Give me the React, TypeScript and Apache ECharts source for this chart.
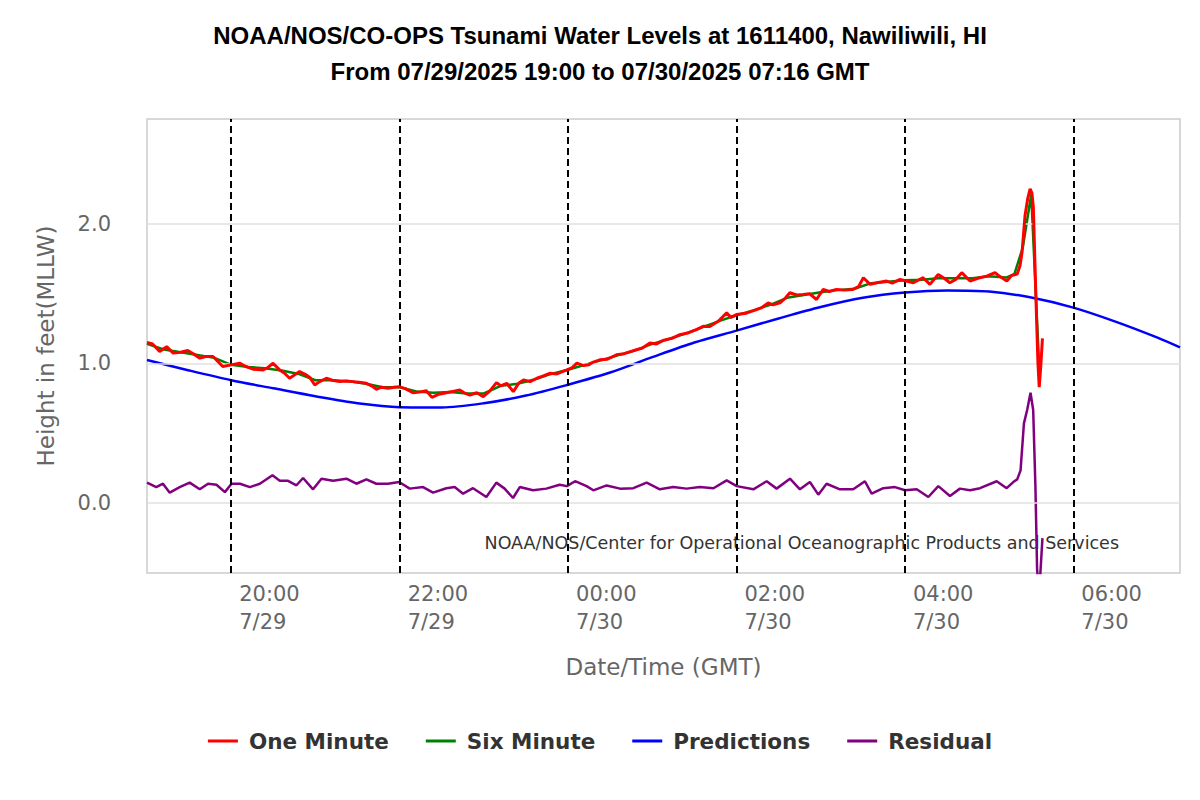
import React, { useEffect, useRef } from 'react';
import * as echarts from 'echarts';

// ---------- texts ----------
const TITLE_LINE_1 = 'NOAA/NOS/CO-OPS Tsunami Water Levels at 1611400, Nawiliwili, HI';
const TITLE_LINE_2 = 'From 07/29/2025 19:00 to 07/30/2025 07:16 GMT';
const CREDIT = 'NOAA/NOS/Center for Operational Oceanographic Products and Services';
const X_NAME = 'Date/Time (GMT)';
const Y_NAME = 'Height in feet(MLLW)';
const SERIES_NAMES = ['One Minute', 'Six Minute', 'Predictions', 'Residual'];

// ---------- axes (x in minutes after 07/29/2025 19:00 GMT) ----------
const X_MIN = 0;
const X_MAX = 736;
const X_TICK_MINUTES = [60, 180, 300, 420, 540, 660];
const X_TICK_LABELS = ['20:00\n7/29', '22:00\n7/29', '00:00\n7/30', '02:00\n7/30', '04:00\n7/30', '06:00\n7/30'];
const Y_MIN = -0.5;
const Y_MAX = 2.75;
const Y_TICKS = [0, 1, 2];
const Y_TICK_LABELS = ['0.0', '1.0', '2.0'];

// ---------- One Minute (observed) ----------
const ONE_MIN_T = [0, 4, 9, 14, 18.7, 24, 29, 33, 37.6, 42, 47, 54, 60, 66, 70, 75.6, 82.7, 86, 89.8, 94.5, 98, 101.6, 108.7, 113.5, 116, 119.5, 123, 127.8, 132, 137.3, 142, 146.8, 151, 156.3, 160, 163.4, 167, 171.7, 176, 179.6, 184, 189.5, 194, 199, 203, 208, 213.3, 218, 222.8, 226, 230, 235, 239.6, 244, 249, 252, 256.3, 261, 265, 268.3, 273, 277.8, 282, 287.3, 292, 299.2, 303, 306.3, 311, 314.6, 318, 322.6, 328, 334.5, 340, 348.8, 353, 358.3, 363, 367.8, 374, 379.6, 386, 391.5, 396.3, 401, 407, 413, 416, 420, 427, 434.3, 438, 442.6, 446, 451, 455, 458, 463, 467.5, 472, 477, 481.8, 486, 491.3, 497, 503, 507, 510.4, 515.2, 521, 527, 531, 536.6, 541, 546, 553, 557.8, 563.7, 568, 572, 576, 580.5, 586.4, 592, 598.3, 604.2, 608, 612.6, 616, 620, 622, 623.5, 625.6, 627.5, 629.2, 630.5, 631.5, 632.7, 633.8, 634.8, 635.7, 636.8, 638];
const ONE_MIN_V = [1.15, 1.14, 1.086, 1.12, 1.074, 1.08, 1.093, 1.07, 1.038, 1.05, 1.05, 0.978, 0.99, 1.002, 0.98, 0.959, 0.954, 0.97, 1.002, 0.954, 0.93, 0.894, 0.942, 0.918, 0.9, 0.846, 0.87, 0.894, 0.88, 0.87, 0.875, 0.87, 0.865, 0.858, 0.84, 0.815, 0.83, 0.822, 0.83, 0.834, 0.82, 0.79, 0.795, 0.805, 0.757, 0.78, 0.79, 0.8, 0.81, 0.79, 0.774, 0.79, 0.762, 0.8, 0.863, 0.84, 0.858, 0.798, 0.86, 0.882, 0.87, 0.894, 0.91, 0.93, 0.925, 0.954, 0.97, 1.002, 0.985, 0.99, 1.01, 1.026, 1.03, 1.062, 1.07, 1.098, 1.11, 1.146, 1.14, 1.165, 1.18, 1.206, 1.22, 1.242, 1.266, 1.265, 1.302, 1.362, 1.33, 1.35, 1.36, 1.386, 1.4, 1.434, 1.42, 1.434, 1.47, 1.506, 1.49, 1.494, 1.5, 1.458, 1.53, 1.515, 1.53, 1.525, 1.53, 1.55, 1.614, 1.566, 1.58, 1.59, 1.575, 1.602, 1.59, 1.578, 1.614, 1.566, 1.637, 1.61, 1.578, 1.6, 1.65, 1.59, 1.61, 1.625, 1.65, 1.62, 1.59, 1.63, 1.64, 1.7, 1.8, 2.06, 2.18, 2.25, 2.22, 2.12, 1.7, 1.32, 1.0, 0.83, 0.98, 1.18];

// ---------- Six Minute ----------
const SIX_MIN_T = [0, 12, 24, 36, 48, 60, 72, 84, 96, 108, 120, 132, 144, 156, 168, 180, 192, 204, 216, 228, 240, 252, 264, 276, 288, 300, 312, 324, 336, 348, 360, 372, 384, 396, 408, 420, 432, 444, 456, 468, 480, 492, 504, 516, 528, 540, 552, 564, 576, 588, 600, 612, 618, 624, 630, 636];
const SIX_MIN_V = [1.14, 1.1, 1.08, 1.06, 1.04, 0.99, 0.975, 0.965, 0.95, 0.925, 0.88, 0.88, 0.872, 0.855, 0.83, 0.83, 0.8, 0.79, 0.795, 0.785, 0.785, 0.84, 0.855, 0.885, 0.925, 0.955, 0.99, 1.025, 1.06, 1.095, 1.14, 1.175, 1.215, 1.26, 1.305, 1.345, 1.38, 1.42, 1.47, 1.49, 1.51, 1.525, 1.535, 1.575, 1.585, 1.595, 1.6, 1.61, 1.61, 1.61, 1.625, 1.615, 1.64, 1.83, 2.21, 0.9];

// ---------- Predictions ----------
const PRED_T = [0, 30, 60, 90, 120, 150, 180, 210, 240, 270, 300, 330, 360, 390, 420, 450, 480, 510, 540, 570, 600, 630, 660, 690, 720, 736];
const PRED_V = [1.025, 0.95, 0.88, 0.822, 0.765, 0.715, 0.687, 0.685, 0.715, 0.77, 0.848, 0.935, 1.045, 1.15, 1.235, 1.322, 1.404, 1.47, 1.508, 1.523, 1.515, 1.472, 1.4, 1.3, 1.185, 1.115];

// ---------- Residual ----------
const RESID_T = [0, 6.6, 11.4, 16.2, 23.3, 30.4, 37.6, 43.5, 49.5, 55.5, 60.2, 66.2, 73.3, 80.4, 89.4, 94.6, 100.5, 106.5, 111.2, 118.3, 124.3, 132.6, 142.1, 149.2, 156.3, 163.4, 171.7, 179.6, 187.2, 196.7, 203.8, 213.3, 219.2, 225.2, 232.3, 241.8, 248.9, 254.8, 260.8, 265.6, 275, 284.5, 294, 299.2, 305, 313.2, 318, 327.5, 337, 346.5, 356, 365.4, 374.9, 384.4, 393.9, 403.6, 413, 420.2, 432, 441.5, 448.6, 458.1, 465.2, 472.3, 478.3, 484.2, 493.7, 503.2, 511.5, 516.3, 524.6, 532.9, 540.1, 548.4, 556.7, 563.8, 572.1, 579.2, 586.4, 593.5, 605.4, 612.5, 617.2, 620, 622.4, 624.8, 627.1, 629.5, 631.4, 633, 634.2, 635.7, 638];
const RESID_V = [0.147, 0.115, 0.139, 0.075, 0.115, 0.147, 0.099, 0.139, 0.132, 0.079, 0.139, 0.139, 0.115, 0.139, 0.2, 0.16, 0.16, 0.128, 0.18, 0.099, 0.175, 0.16, 0.175, 0.139, 0.17, 0.139, 0.139, 0.151, 0.104, 0.115, 0.075, 0.107, 0.115, 0.068, 0.107, 0.044, 0.147, 0.104, 0.037, 0.115, 0.092, 0.104, 0.132, 0.122, 0.157, 0.122, 0.092, 0.127, 0.104, 0.107, 0.147, 0.099, 0.115, 0.104, 0.115, 0.107, 0.163, 0.122, 0.099, 0.157, 0.104, 0.175, 0.099, 0.151, 0.061, 0.139, 0.099, 0.099, 0.157, 0.068, 0.107, 0.115, 0.092, 0.099, 0.044, 0.122, 0.051, 0.104, 0.092, 0.107, 0.157, 0.107, 0.151, 0.17, 0.235, 0.571, 0.667, 0.79, 0.667, 0.116, -0.48, -0.64, -0.25];

const zip = (t: number[], v: number[]) => t.map((x, i) => [x, v[i]]);

const FONT = 'DejaVu Sans';

export default function App() {
  const ref = useRef<HTMLDivElement>(null);
  useEffect(() => {
    if (!ref.current) return;
    const chart = echarts.init(ref.current, undefined, { renderer: 'svg' });
    const lineBase = { type: 'line', showSymbol: false, symbol: 'none', animation: false };
    chart.setOption({
      animation: false,
      backgroundColor: '#ffffff',
      title: {
        text: TITLE_LINE_1 + '\n' + TITLE_LINE_2,
        left: 'center',
        top: 12,
        textStyle: {
          fontFamily: 'Liberation Sans',
          fontSize: 24,
          fontWeight: 'bold',
          color: '#000',
          lineHeight: 36,
        },
      },
      grid: {
        left: 147,
        right: 20,
        top: 119,
        bottom: 227,
        show: true,
        borderColor: '#cccccc',
        borderWidth: 1.5,
        backgroundColor: 'transparent',
      },
      legend: {
        data: SERIES_NAMES,
        left: 'center',
        top: 725,
        icon: 'rect',
        itemWidth: 30,
        itemHeight: 3,
        itemGap: 37,
        textStyle: {
          fontFamily: FONT,
          fontSize: 21.5,
          fontWeight: 'bold',
          color: '#333',
          padding: [0, 0, 0, 6],
        },
      },
      xAxis: {
        type: 'value',
        min: X_MIN,
        max: X_MAX,
        interval: 60,
        name: X_NAME,
        nameLocation: 'middle',
        nameGap: 82,
        nameTextStyle: { fontFamily: FONT, fontSize: 23, color: '#666' },
        axisLine: { show: false },
        axisTick: { show: false },
        splitLine: { show: false },
        axisLabel: {
          formatter: (v: number) => {
            const i = X_TICK_MINUTES.indexOf(v);
            return i >= 0 ? X_TICK_LABELS[i] : '';
          },
          align: 'left',
          padding: [0, 0, 0, 8],
          margin: 7,
          lineHeight: 28,
          fontFamily: FONT,
          fontSize: 21,
          color: '#666',
        },
      },
      yAxis: {
        type: 'value',
        min: Y_MIN,
        max: Y_MAX,
        interval: 0.5,
        name: Y_NAME,
        nameLocation: 'middle',
        nameGap: 90,
        nameTextStyle: { fontFamily: FONT, fontSize: 23, color: '#666' },
        axisLine: { show: false },
        axisTick: { show: false },
        splitLine: { show: false },
        axisLabel: {
          formatter: (v: number) => {
            const i = Y_TICKS.indexOf(Math.round(v * 1000) / 1000);
            return i >= 0 ? Y_TICK_LABELS[i] : '';
          },
          margin: 36,
          fontFamily: FONT,
          fontSize: 21,
          color: '#666',
        },
      },
      graphic: [
        {
          type: 'text',
          right: 81,
          top: 534,
          z: 0,
          style: {
            text: CREDIT,
            font: '17.5px "DejaVu Sans"',
            fill: '#333',
          },
        },
      ],
      series: [
        {
          type: 'line',
          name: '_reference_lines',
          data: [],
          z: 1,
          silent: true,
          markLine: {
            silent: true,
            animation: false,
            symbol: ['none', 'none'],
            label: { show: false },
            data: [
              ...Y_TICKS.map((y) => ({ yAxis: y, lineStyle: { color: '#e0e0e0', width: 1.5, type: 'solid' } })),
              ...X_TICK_MINUTES.map((x) => ({ xAxis: x, lineStyle: { color: '#000', width: 2, type: [7, 4] } })),
            ],
          },
        },
        {
          ...lineBase,
          name: 'Predictions',
          data: zip(PRED_T, PRED_V),
          smooth: 0.3,
          z: 3,
          color: '#0000ff',
          lineStyle: { color: '#0000ff', width: 2.5 },
        },
        {
          ...lineBase,
          name: 'Residual',
          data: zip(RESID_T, RESID_V),
          z: 3,
          color: '#800080',
          lineStyle: { color: '#800080', width: 2.5 },
        },
        {
          ...lineBase,
          name: 'Six Minute',
          data: zip(SIX_MIN_T, SIX_MIN_V),
          z: 4,
          color: '#008000',
          lineStyle: { color: '#008000', width: 2.5 },
        },
        {
          ...lineBase,
          name: 'One Minute',
          data: zip(ONE_MIN_T, ONE_MIN_V),
          z: 5,
          color: '#ff0000',
          lineStyle: { color: '#ff0000', width: 3 },
        },
      ],
    });
    return () => chart.dispose();
  }, []);
  return (
    <div
      ref={ref}
      style={{ position: 'absolute', left: 0, top: 0, width: 1200, height: 800, background: '#fff' }}
    />
  );
}
